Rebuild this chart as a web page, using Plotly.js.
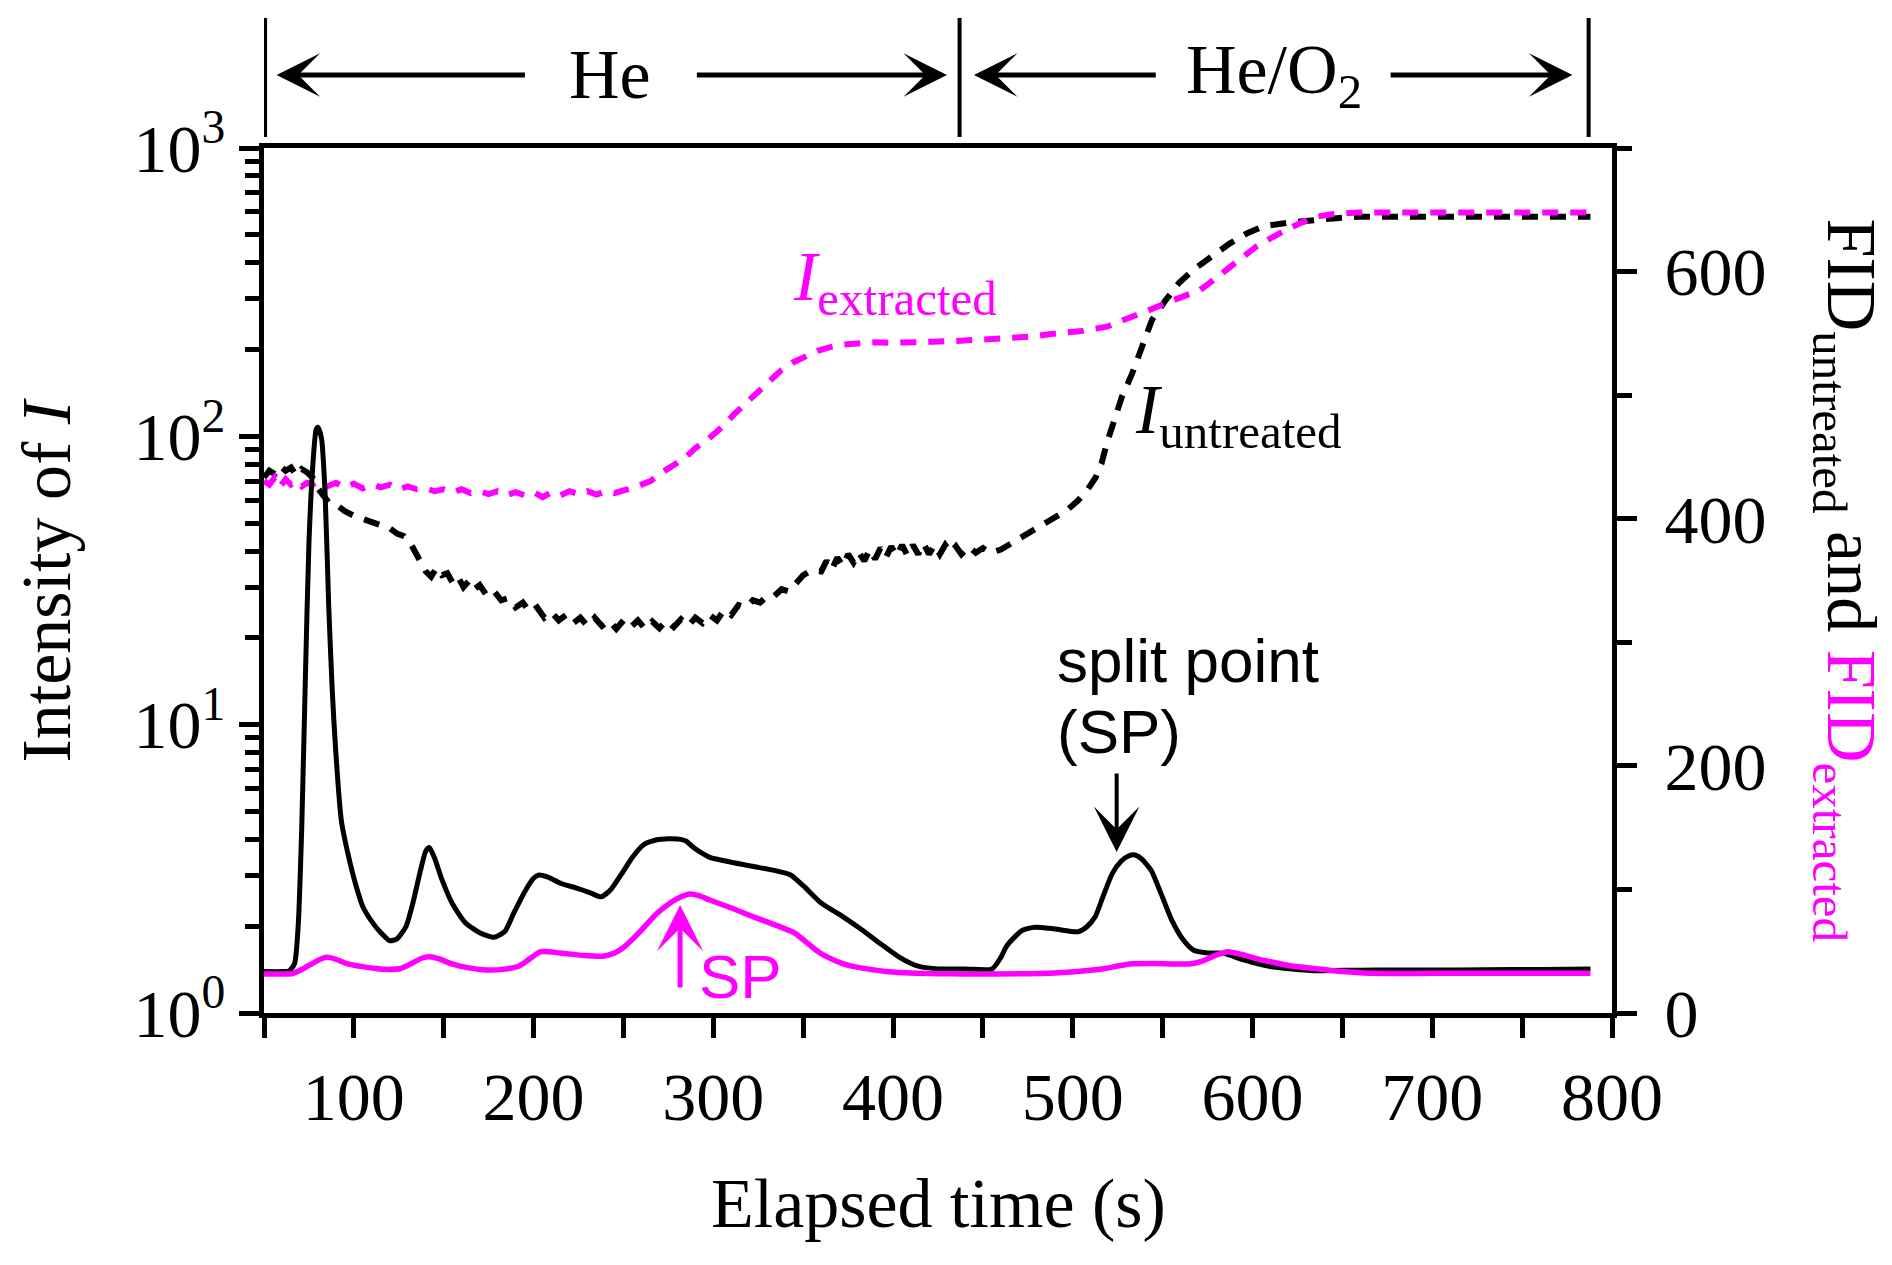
<!DOCTYPE html>
<html>
<head>
<meta charset="utf-8">
<script src="https://cdn.plot.ly/plotly-3.0.1.min.js"></script>
<style>
html,body{margin:0;padding:0;background:#fff;}
#chart{width:1892px;height:1265px;}
</style>
</head>
<body>
<div id="chart"></div>
<script>
// ---- Data ----
// FID untreated (right axis, linear)
const fidUntreatedT = [50,60,64,67,69,71,73,75,77,79,80,82,84,86,88,90,93,97,101,105,110,115,120,124,129,133,137,140,142,145,149,155,162,170,178,184,189,195,200,203,208,215,224,232,237.5,243,248.6,255,261,268,275,282,285,288.5,293,298,310,323,335,343,350,360,372,383,393,403,410,415,425,440,455,460,463,468,472,479,490,503,508,512.5,517,522,527,531,534,538,543.5,549,555,561,567,575,584,595,610,622,634,650,670,700,730,760,788];
const fidUntreatedV = [33.5,33.5,34,40,70,150,270,380,440,472,474,465,420,330,260,210,156,127,104,86,74,65,58.5,60,70,90,115,131,134,125,108,88,73,65,61.3,66,81,98,109,111.7,110,105,101,97,94,100,111.7,126,136,140,141,140.5,139,134.6,130,126,122,118.4,115,111.7,103,89,78,67,56,45.6,40,37.5,35.7,35.6,35.6,45,53.7,62,67,69.4,68,65.8,70,78,95,113,123,127,128,125,115.7,97,75.3,60,51,48.6,48.3,43,37.5,35.5,34.2,34.5,34.7,34.8,35,35.3,35.6];

// FID extracted (right axis, linear)
const fidExtractedT = [50,60,66,72,78,84,86,90,96,105,112,119.6,126,132,138,142.4,147,155,164,174,184,192,198,204,215,228,238.7,245,250,258,268.7,276,282,287,292,298,310,322,334,345.5,352,358,363,372,382,397.8,410,425,440,470,490,515,525,531.6,545,564.8,572,580,586.3,595,605,610,620,633.8,650,665,700,750,788];
const fidExtractedV = [31.6,31.6,32,36,41,45,45,43.5,40,37.5,36,35.3,36,40,44.5,45.6,44,39.5,36.5,34.8,35.5,38,44,49.6,48.5,46.5,46,48.5,53,64,80.7,89,94,96.3,95,91.4,85,78,71.5,64.5,57,50,45.6,40,36.5,33.4,32.3,31.8,31.6,31.8,32.4,35.4,38,39.7,40,39.7,42,47,49.6,47,43,41.5,38.5,36.1,33.5,32.1,32.1,32.1,32.1];

// Intensity of I, untreated (left axis, log)
const iUntreatedT = [50,53,56,59,62,65,68,71,74,77,80,83,86,90,95,100,104,108,112,116,120,124,128,132,136,140,143,146,149,152,155,158,161,164,167,170,174,178,182,186,190,194,198,202,206,210,214,218,222,226,230,234,238,242,246,250,254,258,262,266,270,274,278,282,286,290,294,298,302,306,310,314,318,322,326,330,334,338,342,346,350,355,360,363,366,369,372,375,378,381,384,387,390,393,396,399,402,405,408,411,414,417,420,423,426,429,432,435,438,442,446,450,454,460,467,475,483,490,497,503,508,512.7,516,519,523,527.3,533,538.6,544,551.4,559,567.5,577,587,597,606,620,632,645,660,700,750,788];
const iUntreatedV = [72,76,74,79,76,78,73,77,75,72,66,62,59,58,55,53,52,51,50,49,48,46,45,42,38,34,32.6,35,33,33.5,31,32.5,30,31.5,29.5,30.5,28,29,27,27.5,25.5,26.5,24.5,25.5,23.5,24.5,23,24,22.5,23.5,22,23.5,22,23,21.5,23,21.8,23,21.5,22.8,21.6,23,21.8,23.2,22,23.5,22.5,24,23,25,24,26,25.5,27,26.5,28,28,29.5,29,31,33,34.4,34,37,34.5,38,35.5,39,36.5,39.5,37,40.5,37.5,41,38,41.5,38.5,42,38.5,42,39,42.5,39,42,39,42,39.5,41.5,39,41.5,39.5,41,39.5,40.5,43,46,49,52,55.6,60,65,72,80.6,95,114,137,165,205,253,295,340,380,420,465,506,535,551,563,570,578,580,578,577,576];

// Intensity of I, extracted (left axis, log)
const iExtractedT = [50,53,56,59,62,65,68,71,74,77,80,85,90,95,100,105,110,115,120,125,130,135,140,145,150,155,160,165,170,175,180,185,190,195,200,205,210,215,220,225,230,235,240,245,250,255,260,265,270,275,280,285,290,296.5,305,312,318,324,331.5,338,344,350.9,358,365,372,380,390,400,410,422,435,450,465,478,486.8,495,505,512,519,526,532,538,545,552,558,565,570.9,576,581,586,590.3,596,602,607,613,620,627,635.7,645,658.3,700,750,788];
const iExtractedV = [70,68,72,67,71,68,70,67,69,68,70,67,69,66.5,68.5,66,68,66.5,68,65.5,67,65.5,66,64.5,65.5,64,65.5,63.5,64.5,63,64.5,62.5,64,62.5,64,61.5,64,62.5,64.5,63,64.5,62.8,64.5,63.5,65,66,68,70,74,77,81,85,91,97,108,120,130,140,157,170,180,189,198,204,208,210,212,211,213,213,214,216,219,222,226,228,232,236,240,250,258,266,278,290,300,310,322,340,360,382,398,425,455,475,499,525,550,578,590,597,597,597,597];

// Tick labels
const xTickVals = [100,200,300,400,500,600,700,800];
const xTickText = ['100','200','300','400','500','600','700','800'];
const xMinorVals = [50,150,250,350,450,550,650,750];
const yTickVals = [1,10,100,1000];
const yTickText = ['10<sup>0</sup>','10<sup>1</sup>','10<sup>2</sup>','10<sup>3</sup>'];
const yMinorVals = [2,3,4,5,6,7,8,9,20,30,40,50,60,70,80,90,200,300,400,500,600,700,800,900];
const y2TickVals = [0,200,400,600];
const y2TickText = ['0','200','400','600'];
const y2MinorVals = [100,300,500,700];

// ---- Styling ----
const MAG = '#ff00ff';
const SERIF = 'Liberation Serif, Times New Roman, serif';
const SANS = 'Liberation Sans, Arial, sans-serif';

const traces = [
  {x: iUntreatedT, y: iUntreatedV, type:'scatter', mode:'lines', yaxis:'y',
   line:{color:'#000', width:6, dash:'16px,12px'}, name:'I untreated'},
  {x: iExtractedT, y: iExtractedV, type:'scatter', mode:'lines', yaxis:'y',
   line:{color:MAG, width:6, dash:'16px,12px'}, name:'I extracted'},
  {x: fidUntreatedT, y: fidUntreatedV, type:'scatter', mode:'lines', yaxis:'y2',
   line:{color:'#000', width:5, shape:'spline', smoothing:0.6}, name:'FID untreated'},
  {x: fidExtractedT, y: fidExtractedV, type:'scatter', mode:'lines', yaxis:'y2',
   line:{color:MAG, width:5.5, shape:'spline', smoothing:0.6}, name:'FID extracted'}
];

const W = 1348, H = 865, L = 264, T = 148;
function px2paperX(px){ return (px - L)/W; }
function px2paperY(py){ return (T + H - py)/H; }

const arrowY = px2paperY(75);
function topArrow(tip, tail){
  return {xref:'x', yref:'paper', x:tip, y:arrowY, axref:'x', ayref:'pixel', ax:tail, ay:0,
          text:'', showarrow:true, arrowhead:3, arrowsize:1.45, arrowwidth:5, arrowcolor:'#000', standoff:0};
}

const annotations = [
  // phase labels
  {xref:'x', yref:'paper', x:242.5, y:arrowY, text:'He', showarrow:false,
   font:{family:SERIF, size:70, color:'#000'}, xanchor:'center', yanchor:'middle'},
  {xref:'x', yref:'paper', x:612, y:arrowY, text:'He/O<sub>2</sub>', showarrow:false,
   font:{family:SERIF, size:70, color:'#000'}, xanchor:'center', yanchor:'middle'},
  topArrow(57, 196), topArrow(430, 290), topArrow(445, 547), topArrow(778, 676),
  // series labels
  {xref:'x', yref:'y', x:401, y:2.535, text:'<i>I</i><sub>extracted</sub>', showarrow:false,
   font:{family:SERIF, size:70, color:MAG}, xanchor:'center', yanchor:'middle'},
  {xref:'x', yref:'y', x:592, y:2.074, text:'<i>I</i><sub>untreated</sub>', showarrow:false,
   font:{family:SERIF, size:70, color:'#000'}, xanchor:'center', yanchor:'middle'},
  // split point
  {xref:'x', yref:'y2', x:490.2, y:284.9, text:'split point', showarrow:false,
   font:{family:SANS, size:62, color:'#000'}, xanchor:'left', yanchor:'middle'},
  {xref:'x', yref:'y2', x:490.2, y:228.2, text:'(SP)', showarrow:false,
   font:{family:SANS, size:62, color:'#000'}, xanchor:'left', yanchor:'middle'},
  {xref:'x', yref:'y2', x:524.4, y:130.3, axref:'x', ayref:'y2', ax:524.4, ay:195,
   text:'', showarrow:true, arrowhead:3, arrowsize:1.9, arrowwidth:4, arrowcolor:'#000', standoff:0},
  {xref:'x', yref:'y2', x:281.5, y:87.4, axref:'x', ayref:'y2', ax:281.5, ay:19.4,
   text:'', showarrow:true, arrowhead:3, arrowsize:1.55, arrowwidth:5, arrowcolor:MAG, standoff:0},
  {xref:'x', yref:'y2', x:315, y:29.9, text:'SP', showarrow:false,
   font:{family:SANS, size:62, color:MAG}, xanchor:'center', yanchor:'middle'},
  // axis titles
  {xref:'paper', yref:'paper', x:0.5, y:px2paperY(1203), text:'Elapsed time (s)', showarrow:false,
   font:{family:SERIF, size:70, color:'#000'}, xanchor:'center', yanchor:'middle'},
  {xref:'paper', yref:'paper', x:px2paperX(46), y:0.5, text:'Intensity of <i>I</i>', showarrow:false,
   textangle:-90, font:{family:SERIF, size:70, color:'#000'}, xanchor:'center', yanchor:'middle'},
  {xref:'paper', yref:'paper', x:px2paperX(1846), y:0.5,
   text:'FID<sub>untreated</sub> and <span style="color:#ff00ff">FID<sub>extracted</sub></span>', showarrow:false,
   textangle:90, font:{family:SERIF, size:70, color:'#000'}, xanchor:'center', yanchor:'middle'}
];

const shapes = [50.6, 437, 787].map(x => ({
  type:'line', xref:'x', yref:'paper', x0:x, x1:x, y0:px2paperY(137), y1:px2paperY(18),
  line:{color:'#000', width:4}
}));

const layout = {
  width:1892, height:1265,
  margin:{l:264, r:280, t:148, b:252, pad:0},
  paper_bgcolor:'#fff', plot_bgcolor:'#fff',
  showlegend:false,
  font:{family:SERIF, color:'#000'},
  xaxis:{
    range:[50,800], tickmode:'array', tickvals:xTickVals, ticktext:xTickText,
    ticks:'outside', ticklen:20, tickwidth:5, tickcolor:'#000',
    minor:{tickmode:'array', tickvals:xMinorVals, ticks:'outside', ticklen:20, tickwidth:5, tickcolor:'#000', showgrid:false},
    showline:true, linewidth:5, linecolor:'#000', mirror:true,
    showgrid:false, zeroline:false,
    tickfont:{family:SERIF, size:68, color:'#000'}
  },
  yaxis:{
    type:'log', range:[0,3], tickmode:'array', tickvals:yTickVals, ticktext:yTickText,
    ticks:'outside', ticklen:20, tickwidth:5, tickcolor:'#000',
    minor:{tickmode:'array', tickvals:yMinorVals, ticks:'outside', ticklen:14, tickwidth:5, tickcolor:'#000', showgrid:false},
    showline:true, linewidth:5, linecolor:'#000',
    showgrid:false, zeroline:false,
    tickfont:{family:SERIF, size:68, color:'#000'}
  },
  yaxis2:{
    overlaying:'y', side:'right', range:[0,700], tickmode:'array', tickvals:y2TickVals, ticktext:y2TickText,
    ticks:'outside', ticklen:20, tickwidth:5, tickcolor:'#000', ticklabelstandoff:14,
    minor:{tickmode:'array', tickvals:y2MinorVals, ticks:'outside', ticklen:15, tickwidth:5, tickcolor:'#000', showgrid:false},
    showline:true, linewidth:5, linecolor:'#000',
    showgrid:false, zeroline:false,
    tickfont:{family:SERIF, size:68, color:'#000'}
  },
  annotations: annotations,
  shapes: shapes
};

Plotly.newPlot('chart', traces, layout, {displayModeBar:false, staticPlot:true});
</script>
</body>
</html>
